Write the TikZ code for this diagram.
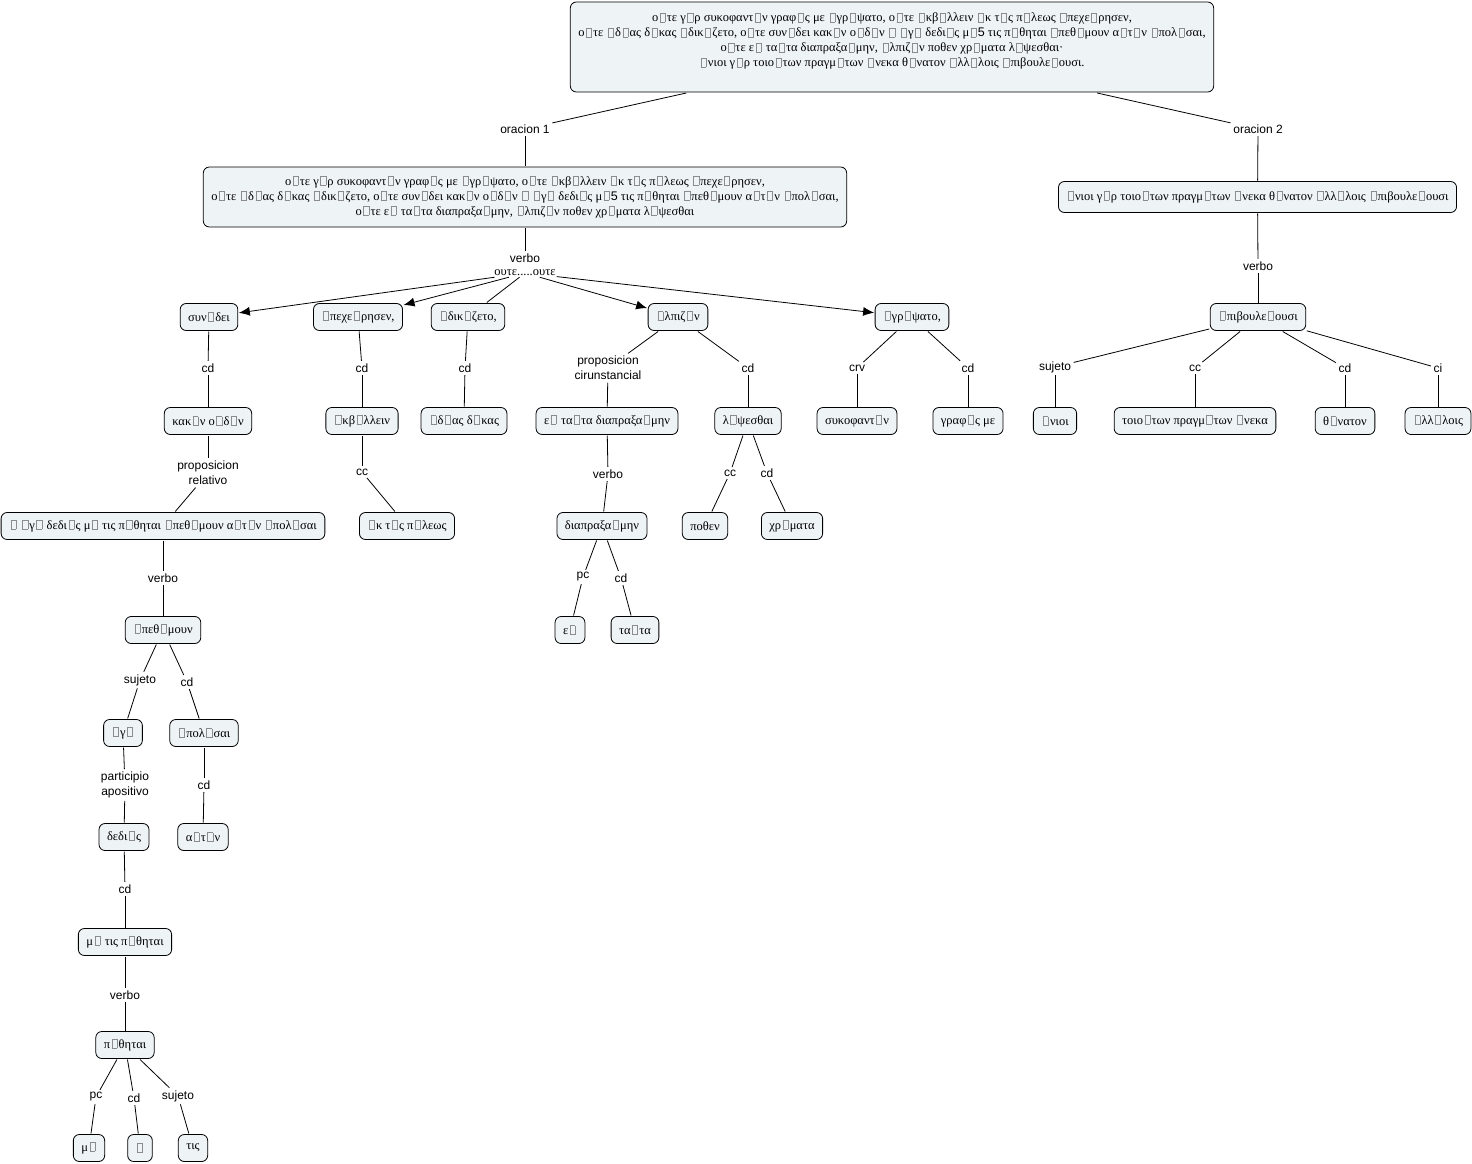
\documentclass[tikz,border=0pt]{standalone}
\usepackage{fontspec}
\setmainfont{Liberation Serif}
\setsansfont{Liberation Sans}
\usetikzlibrary{arrows.meta}
\definecolor{cfill}{RGB}{238,243,246}
% box for a glyph the font lacks
\newcommand\bx{\hbox{\kern1.5pt\textcolor{black!45}{\fboxsep0pt\fboxrule0.4pt\fbox{\rule{0pt}{8.6pt}\rule{4.8pt}{0pt}}}\kern1.5pt}}
\tikzset{
  concept/.style={draw, line width=0.8pt, rounded corners=6pt, fill=cfill, align=center,
    font=\fontsize{12.5}{15}\selectfont, inner xsep=8pt, minimum height=27pt, outer sep=1pt},
  phrase/.style={align=center, font=\sffamily\fontsize{12}{15}\selectfont, inner sep=2.5pt},
  link/.style={line width=0.8pt},
  arr/.style={line width=0.8pt, -{Latex[length=11pt,width=9pt]}}
}
\begin{document}
\begin{tikzpicture}[x=1pt,y=-1pt]
  \useasboundingbox (0,0) rectangle (1472,1164);
  % the whole text
  \node[concept, minimum width=640pt, minimum height=90pt] at (892,47) (T) {%
    ο\bx τε γ\bx ρ συκοφαντ\bx ν γραφ\bx ς με \bx γρ\bx ψατο, ο\bx τε \bx κβ\bx λλειν \bx κ τ\bx ς π\bx λεως \bx πεχε\bx ρησεν,\\
    ο\bx τε \bx δ\bx ας δ\bx κας \bx δικ\bx ζετο, ο\bx τε συν\bx δει κακ\bx ν ο\bx δ\bx ν \bx{} \bx γ\bx{} δεδι\bx ς μ\bx{\sffamily 5} τις π\bx θηται \bx πεθ\bx μουν α\bx τ\bx ν \bx πολ\bx σαι,\\
    ο\bx τε ε\bx{} τα\bx τα διαπραξα\bx μην, \bx λπιζ\bx ν ποθεν χρ\bx ματα λ\bx ψεσθαι·\\
    \bx νιοι γ\bx ρ τοιο\bx των πραγμ\bx των \bx νεκα θ\bx νατον \bx λλ\bx λοις \bx πιβουλε\bx ουσι.\\ \mbox{}};
  \node[phrase] at (525,129) (or1) {oracion 1};
  \node[phrase] at (1258,129) (or2) {oracion 2};
  \node[concept, minimum width=640pt, minimum height=60pt] at (525,197) (M1) {%
    ο\bx τε γ\bx ρ συκοφαντ\bx ν γραφ\bx ς με \bx γρ\bx ψατο, ο\bx τε \bx κβ\bx λλειν \bx κ τ\bx ς π\bx λεως \bx πεχε\bx ρησεν,\\
    ο\bx τε \bx δ\bx ας δ\bx κας \bx δικ\bx ζετο, ο\bx τε συν\bx δει κακ\bx ν ο\bx δ\bx ν \bx{} \bx γ\bx{} δεδι\bx ς μ\bx{\sffamily 5} τις π\bx θηται \bx πεθ\bx μουν α\bx τ\bx ν \bx πολ\bx σαι,\\
    ο\bx τε ε\bx{} τα\bx τα διαπραξα\bx μην, \bx λπιζ\bx ν ποθεν χρ\bx ματα λ\bx ψεσθαι};
  \node[concept, minimum height=31pt] at (1257.5,197) (M2) {\bx νιοι γ\bx ρ τοιο\bx των πραγμ\bx των \bx νεκα θ\bx νατον \bx λλ\bx λοις \bx πιβουλε\bx ουσι};
  % oracion 1
  \node[phrase] at (525,258) (vb1) {verbo};
  \node[phrase, font=\fontsize{12.5}{15}\selectfont, inner sep=1pt] at (525,273) (oute) {ουτε.....ουτε};
  \node[concept] at (209,317) (N1) {συν\bx δει};
  \node[concept] at (358,317) (N2) {\bx πεχε\bx ρησεν,};
  \node[concept] at (468,317) (N3) {\bx δικ\bx ζετο,};
  \node[concept] at (678,317) (N4) {\bx λπιζ\bx ν};
  \node[concept] at (912,317) (N5) {\bx γρ\bx ψατο,};
  \node[phrase] at (208,368) (cd1) {cd};
  \node[concept] at (208,421) (K1) {κακ\bx ν ο\bx δ\bx ν};
  \node[phrase] at (208,473) (prel) {proposicion\\relativo};
  \node[concept] at (163,526) (R1) {\bx{} \bx γ\bx{} δεδι\bx ς μ\bx{} τις π\bx θηται \bx πεθ\bx μουν α\bx τ\bx ν \bx πολ\bx σαι};
  \node[phrase] at (163,578) (vb2) {verbo};
  \node[concept] at (163,630) (P1) {\bx πεθ\bx μουν};
  \node[phrase] at (140,680) (suj1) {sujeto};
  \node[phrase] at (187,682) (cd2) {cd};
  \node[concept] at (123,733) (E1) {\bx γ\bx};
  \node[concept] at (204,733) (A1) {\bx πολ\bx σαι};
  \node[phrase] at (125,785) (papo) {participio\\apositivo};
  \node[phrase] at (204,785) (cd3) {cd};
  \node[concept] at (124,837) (D1) {δεδι\bx ς};
  \node[concept] at (203,837) (A2) {α\bx τ\bx ν};
  \node[phrase] at (125,889) (cd4) {cd};
  \node[concept] at (125,942) (MT) {μ\bx{} τις π\bx θηται};
  \node[phrase] at (125,995) (vb3) {verbo};
  \node[concept] at (125,1045) (PT) {π\bx θηται};
  \node[phrase] at (96,1097) (pc1) {pc};
  \node[phrase] at (134,1098) (cd5) {cd};
  \node[phrase] at (178,1096) (suj2) {sujeto};
  \node[concept] at (89,1148) (L1) {μ\bx};
  \node[concept] at (140,1148) (L2) {\bx};
  \node[concept] at (193,1148) (L3) {τις};
  \node[phrase] at (362,368) (cd6) {cd};
  \node[concept] at (362,421) (EK) {\bx κβ\bx λλειν};
  \node[phrase] at (362,472) (cc1) {cc};
  \node[concept] at (407,526) (EP) {\bx κ τ\bx ς π\bx λεως};
  \node[phrase] at (465,368) (cd7) {cd};
  \node[concept] at (464,421) (ID) {\bx δ\bx ας δ\bx κας};
  \node[phrase] at (608,368) (pcir) {proposicion\\cirunstancial};
  \node[phrase] at (748,368) (cd8) {cd};
  \node[concept] at (607,421) (ET) {ε\bx{} τα\bx τα διαπραξα\bx μην};
  \node[concept] at (748,421) (LP) {λ\bx ψεσθαι};
  \node[phrase] at (608,474) (vb4) {verbo};
  \node[phrase] at (730,473) (cc2) {cc};
  \node[phrase] at (767,473) (cd9) {cd};
  \node[concept] at (602,526) (DM) {διαπραξα\bx μην};
  \node[concept] at (705,526) (PO) {ποθεν};
  \node[concept] at (792,526) (XR) {χρ\bx ματα};
  \node[phrase] at (583,577) (pc2) {pc};
  \node[phrase] at (621,578) (cd10) {cd};
  \node[concept] at (570,630) (EI) {ε\bx};
  \node[concept] at (635,630) (TA) {τα\bx τα};
  \node[phrase] at (857,368) (crv) {crv};
  \node[phrase] at (968,368) (cd11) {cd};
  \node[concept] at (857,421) (SY) {συκοφαντ\bx ν};
  \node[concept] at (968,421) (GR) {γραφ\bx ς με};
  % oracion 2
  \node[phrase] at (1258,266) (vb5) {verbo};
  \node[concept] at (1258,317) (EB) {\bx πιβουλε\bx ουσι};
  \node[phrase] at (1055,367) (suj3) {sujeto};
  \node[phrase] at (1195,368) (cc3) {cc};
  \node[phrase] at (1345,368) (cd12) {cd};
  \node[phrase] at (1438,368) (ci) {ci};
  \node[concept] at (1055,421) (EN) {\bx νιοι};
  \node[concept] at (1195,421) (TO) {τοιο\bx των πραγμ\bx των \bx νεκα};
  \node[concept] at (1345,421) (TH) {θ\bx νατον};
  \node[concept] at (1438,421) (AL) {\bx λλ\bx λοις};
  % links
  \foreach \a/\b in {T/or1, or1/M1, T/or2, or2/M2, M1/vb1, oute/N3,
      N1/cd1, cd1/K1, K1/prel, prel/R1, R1/vb2, vb2/P1, P1/suj1, suj1/E1, P1/cd2, cd2/A1,
      E1/papo, papo/D1, A1/cd3, cd3/A2, D1/cd4, cd4/MT, MT/vb3, vb3/PT,
      PT/pc1, pc1/L1, PT/cd5, cd5/L2, PT/suj2, suj2/L3,
      N2/cd6, cd6/EK, EK/cc1, cc1/EP, N3/cd7, cd7/ID,
      N4/pcir, pcir/ET, N4/cd8, cd8/LP, ET/vb4, vb4/DM, DM/pc2, pc2/EI, DM/cd10, cd10/TA,
      LP/cc2, cc2/PO, LP/cd9, cd9/XR, N5/crv, crv/SY, N5/cd11, cd11/GR,
      M2/vb5, vb5/EB, EB/suj3, suj3/EN, EB/cc3, cc3/TO, EB/cd12, cd12/TH, EB/ci, ci/AL}
    \draw[link] (\a) -- (\b);
  \foreach \b in {N1, N2, N4, N5}
    \draw[arr] (oute) -- (\b);
\end{tikzpicture}
\end{document}
